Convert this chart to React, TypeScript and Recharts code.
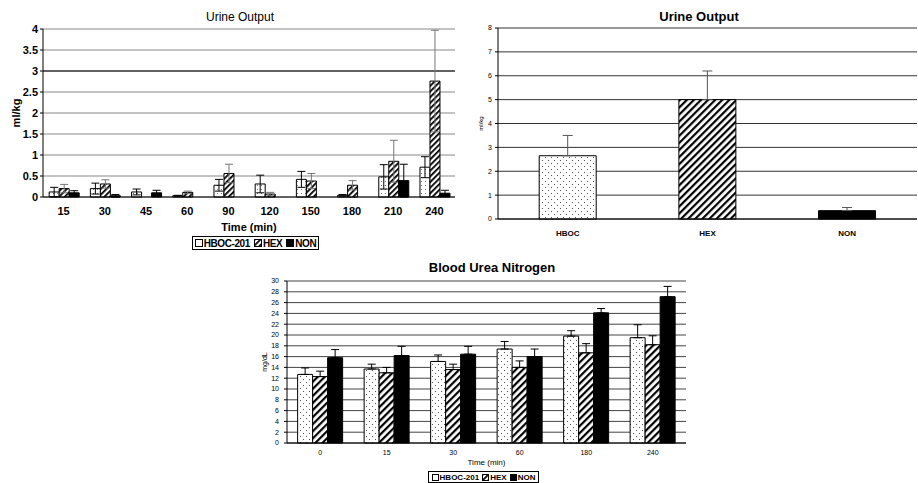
import React from 'react'
import {
  BarChart,
  Bar,
  XAxis,
  YAxis,
  CartesianGrid,
  ErrorBar,
  ReferenceLine,
  Cell,
  Label,
} from 'recharts'

const FONT = '"Liberation Sans", Arial, sans-serif'

// Urine output over time (top left), ml/kg
const urineTimes = ['15', '30', '45', '60', '90', '120', '150', '180', '210', '240']
const urineHboc = [0.12, 0.2, 0.12, 0.03, 0.28, 0.31, 0.42, 0.04, 0.48, 0.71]
const urineHbocErr = [0.11, 0.13, 0.07, 0.01, 0.14, 0.21, 0.19, 0.02, 0.29, 0.25]
const urineHex = [0.2, 0.31, 0, 0.11, 0.56, 0.07, 0.38, 0.28, 0.85, 2.76]
const urineHexErr = [0.1, 0.1, 0, 0.03, 0.22, 0.04, 0.18, 0.11, 0.5, 1.21]
const urineNon = [0.1, 0.03, 0.1, 0, 0, 0, 0, 0, 0.39, 0.09]
const urineNonErr = [0.05, 0.03, 0.06, 0, 0, 0, 0, 0, 0.39, 0.07]
const urineTicks = [0, 0.5, 1, 1.5, 2, 2.5, 3, 3.5, 4]

// Total urine output (top right)
const totalGroups = ['HBOC', 'HEX', 'NON']
const totalMeans = [2.65, 5.0, 0.35]
const totalErr = [0.85, 1.2, 0.13]
const totalTicks = [0, 1, 2, 3, 4, 5, 6, 7, 8]

// Blood urea nitrogen (bottom), mg/dL
const bunTimes = ['0', '15', '30', '60', '180', '240']
const bunHboc = [12.7, 13.7, 15.1, 17.4, 19.8, 19.5]
const bunHbocErr = [1.2, 0.9, 1.2, 1.4, 1.0, 2.4]
const bunHex = [12.3, 13.0, 13.6, 14.0, 16.7, 18.2]
const bunHexErr = [1.0, 1.0, 1.0, 1.2, 1.7, 1.65]
const bunNon = [15.8, 16.2, 16.45, 16.0, 24.1, 27.1]
const bunNonErr = [1.5, 1.7, 1.45, 1.4, 0.8, 1.9]
const bunTicks = [0, 2, 4, 6, 8, 10, 12, 14, 16, 18, 20, 22, 24, 26, 28, 30]

const urineRows = urineTimes.map((t, i) => ({
  time: t,
  hboc: urineHboc[i],
  hbocErr: urineHbocErr[i],
  hex: urineHex[i],
  hexErr: urineHexErr[i],
  non: urineNon[i],
  nonErr: urineNonErr[i],
}))

const totalRows = totalGroups.map((g, i) => ({
  group: g,
  mean: totalMeans[i],
  err: [0, totalErr[i]],
}))

const bunRows = bunTimes.map((t, i) => ({
  time: t,
  hboc: bunHboc[i],
  hbocErr: [0, bunHbocErr[i]],
  hex: bunHex[i],
  hexErr: [0, bunHexErr[i]],
  non: bunNon[i],
  nonErr: [0, bunNonErr[i]],
}))

const totalFills = ['url(#dots2)', 'url(#hatch2)', '#000']

const boundaries = (n: number) => Array.from({ length: n + 1 }, (_, i) => i)

function Patterns() {
  return (
    <svg width={0} height={0} style={{ position: 'absolute' }}>
      <defs>
        <pattern id="dots1" width={4} height={4} patternUnits="userSpaceOnUse">
          <rect width={4} height={4} fill="#fff" />
          <rect x={1} y={1} width={1} height={1} fill="#777" />
        </pattern>
        <pattern id="dots2" width={6} height={6} patternUnits="userSpaceOnUse">
          <rect width={6} height={6} fill="#fff" />
          <rect x={1} y={1} width={1} height={1} fill="#555" />
          <rect x={4} y={4} width={1} height={1} fill="#555" />
        </pattern>
        <pattern id="hatch1" width={4} height={4} patternUnits="userSpaceOnUse" patternTransform="rotate(45)">
          <rect width={4} height={4} fill="#fff" />
          <rect width={1.8} height={4} fill="#000" />
        </pattern>
        <pattern id="hatch2" width={5} height={5} patternUnits="userSpaceOnUse" patternTransform="rotate(45)">
          <rect width={5} height={5} fill="#fff" />
          <rect width={2.2} height={5} fill="#000" />
        </pattern>
      </defs>
    </svg>
  )
}

function Swatch({ fill, size }: { fill: string; size: number }) {
  return (
    <svg width={size} height={size} style={{ marginRight: 1 }}>
      <rect x={0.5} y={0.5} width={size - 1} height={size - 1} fill={fill} stroke="#000" />
    </svg>
  )
}

function LegendBox({ left, top, width, height, fontSize, size, gap, spacing }: any) {
  const item = { display: 'flex', alignItems: 'center', marginRight: gap }
  return (
    <div
      style={{
        position: 'absolute',
        left,
        top,
        width,
        height,
        border: '1px solid #000',
        boxSizing: 'border-box',
        display: 'flex',
        alignItems: 'center',
        justifyContent: 'center',
        fontFamily: FONT,
        fontWeight: 'bold',
        fontSize,
        letterSpacing: spacing,
        whiteSpace: 'nowrap',
      }}
    >
      <span style={item}><Swatch fill="#fff" size={size} />HBOC-201</span>
      <span style={item}><Swatch fill="url(#hatch1)" size={size} />HEX</span>
      <span style={{ ...item, marginRight: 0 }}><Swatch fill="#000" size={size} />NON</span>
    </div>
  )
}

function Title({ text, cx, top, size, bold }: any) {
  return (
    <div
      style={{
        position: 'absolute',
        left: cx - 150,
        width: 300,
        top,
        textAlign: 'center',
        fontFamily: FONT,
        fontSize: size,
        fontWeight: bold ? 'bold' : 'normal',
      }}
    >
      {text}
    </div>
  )
}

export default function App() {
  const tick1 = { fontSize: 11, fontWeight: 'bold', fill: '#000', fontFamily: FONT }
  const tick2 = { fontSize: 7, fill: '#000', fontFamily: FONT }
  return (
    <div
      style={{
        position: 'absolute',
        left: 0,
        top: 0,
        width: 918,
        height: 483,
        background: '#fff',
        overflow: 'hidden',
      }}
    >
      <Patterns />

      {/* Urine output over time */}
      <Title text="Urine Output" cx={240} top={10} size={12} />
      <div style={{ position: 'absolute', left: 0, top: 0 }}>
        <BarChart
          width={460}
          height={250}
          data={urineRows}
          margin={{ top: 29, right: 5, bottom: 13, left: 0 }}
          barCategoryGap="15%"
          barGap={0}
        >
          <CartesianGrid xAxisId="c" vertical={false} stroke="#888" />
          <XAxis
            xAxisId="b"
            type="number"
            domain={[0, 10]}
            ticks={boundaries(10)}
            allowDataOverflow
            tick={false}
            axisLine={false}
            tickLine={{ stroke: '#000' }}
            tickSize={4}
            height={0}
          />
          <XAxis
            xAxisId="c"
            dataKey="time"
            tick={tick1}
            tickLine={false}
            tickSize={4}
            tickMargin={6}
            axisLine={{ stroke: '#000' }}
            height={40}
            interval={0}
          >
            <Label value="Time (min)" position="insideBottom" offset={6} style={tick1} />
          </XAxis>
          <YAxis
            domain={[0, 4]}
            ticks={urineTicks}
            interval={0}
            tick={tick1}
            tickSize={3}
            tickMargin={2}
            axisLine={{ stroke: '#000' }}
            tickLine={{ stroke: '#000' }}
            width={43}
          >
            <Label value="ml/kg" angle={-90} position="insideLeft" offset={16} style={{ ...tick1, textAnchor: 'middle' }} />
          </YAxis>
          <ReferenceLine xAxisId="c" y={3} stroke="#000" />
          <ReferenceLine xAxisId="b" x={10} stroke="#888" />
          <Bar xAxisId="c" dataKey="hboc" fill="url(#dots1)" stroke="#000" strokeWidth={1} isAnimationActive={false}>
            <ErrorBar dataKey="hbocErr" width={4} stroke="#000" strokeWidth={1} />
          </Bar>
          <Bar xAxisId="c" dataKey="hex" fill="url(#hatch1)" stroke="#000" strokeWidth={1} isAnimationActive={false}>
            <ErrorBar dataKey="hexErr" width={4} stroke="#777" strokeWidth={1} />
          </Bar>
          <Bar xAxisId="c" dataKey="non" fill="#000" stroke="#000" strokeWidth={1} isAnimationActive={false}>
            <ErrorBar dataKey="nonErr" width={4} stroke="#000" strokeWidth={1} />
          </Bar>
        </BarChart>
      </div>
      <LegendBox left={192} top={236} width={127} height={14} fontSize={10} size={8} gap={4} spacing={-0.4} />

      {/* Total urine output */}
      <Title text="Urine Output" cx={699} top={9} size={13} bold />
      <div style={{ position: 'absolute', left: 460, top: 0 }}>
        <BarChart
          width={458}
          height={250}
          data={totalRows}
          margin={{ top: 28, right: 1, bottom: 0, left: 0 }}
          barCategoryGap="29.5%"
        >
          <CartesianGrid xAxisId="c" vertical={false} stroke="#333" />
          <XAxis
            xAxisId="b"
            type="number"
            domain={[0, 3]}
            ticks={boundaries(3)}
            allowDataOverflow
            tick={false}
            axisLine={false}
            tickLine={{ stroke: '#000' }}
            tickSize={4}
            height={0}
          />
          <XAxis
            xAxisId="c"
            dataKey="group"
            tick={{ ...tick2, fontSize: 8, fontWeight: 'bold' }}
            tickLine={false}
            tickSize={4}
            tickMargin={7}
            axisLine={{ stroke: '#000' }}
            height={31}
          />
          <YAxis
            domain={[0, 8]}
            ticks={totalTicks}
            interval={0}
            tick={tick2}
            tickSize={3}
            tickMargin={3}
            axisLine={{ stroke: '#000' }}
            tickLine={{ stroke: '#000' }}
            width={38}
          >
            <Label value="ml/kg" angle={-90} position="insideLeft" offset={21} style={{ ...tick2, fontSize: 6, textAnchor: 'middle' }} />
          </YAxis>
          <Bar xAxisId="c" dataKey="mean" stroke="#000" strokeWidth={1} isAnimationActive={false}>
            {totalRows.map((r, i) => (
              <Cell key={r.group} fill={totalFills[i]} />
            ))}
            <ErrorBar dataKey="err" width={5} stroke="#555" strokeWidth={1} />
          </Bar>
        </BarChart>
      </div>

      {/* Blood urea nitrogen */}
      <Title text="Blood Urea Nitrogen" cx={492} top={260} size={13} bold />
      <div style={{ position: 'absolute', left: 230, top: 258 }}>
        <BarChart
          width={470}
          height={215}
          data={bunRows}
          margin={{ top: 23, right: 14, bottom: 0, left: 0 }}
          barCategoryGap="16%"
          barGap={0}
        >
          <CartesianGrid xAxisId="c" vertical={false} stroke="#444" />
          <XAxis
            xAxisId="b"
            type="number"
            domain={[0, 6]}
            ticks={boundaries(6)}
            allowDataOverflow
            tick={false}
            axisLine={false}
            tickLine={{ stroke: '#000' }}
            tickSize={4}
            height={0}
          />
          <XAxis
            xAxisId="c"
            dataKey="time"
            tick={tick2}
            tickLine={false}
            tickSize={4}
            tickMargin={3}
            axisLine={{ stroke: '#000' }}
            height={30}
            interval={0}
          >
            <Label value="Time (min)" position="insideBottom" offset={8} style={{ ...tick2, fontSize: 8 }} />
          </XAxis>
          <YAxis
            domain={[0, 30]}
            ticks={bunTicks}
            interval={0}
            tick={tick2}
            tickSize={3}
            tickMargin={5}
            axisLine={{ stroke: '#000' }}
            tickLine={{ stroke: '#000' }}
            width={57}
          >
            <Label value="mg/dL" angle={-90} position="insideLeft" offset={35} style={{ ...tick2, textAnchor: 'middle' }} />
          </YAxis>
          <ReferenceLine xAxisId="b" x={6} stroke="#888" />
          <Bar xAxisId="c" dataKey="hboc" fill="url(#dots2)" stroke="#000" strokeWidth={1} isAnimationActive={false}>
            <ErrorBar dataKey="hbocErr" width={4} stroke="#000" strokeWidth={1} />
          </Bar>
          <Bar xAxisId="c" dataKey="hex" fill="url(#hatch2)" stroke="#000" strokeWidth={1} isAnimationActive={false}>
            <ErrorBar dataKey="hexErr" width={4} stroke="#000" strokeWidth={1} />
          </Bar>
          <Bar xAxisId="c" dataKey="non" fill="#000" stroke="#000" strokeWidth={1} isAnimationActive={false}>
            <ErrorBar dataKey="nonErr" width={4} stroke="#000" strokeWidth={1} />
          </Bar>
        </BarChart>
      </div>
      <LegendBox left={428} top={471} width={111} height={12} fontSize={8} size={7} gap={3} spacing={0} />
    </div>
  )
}
